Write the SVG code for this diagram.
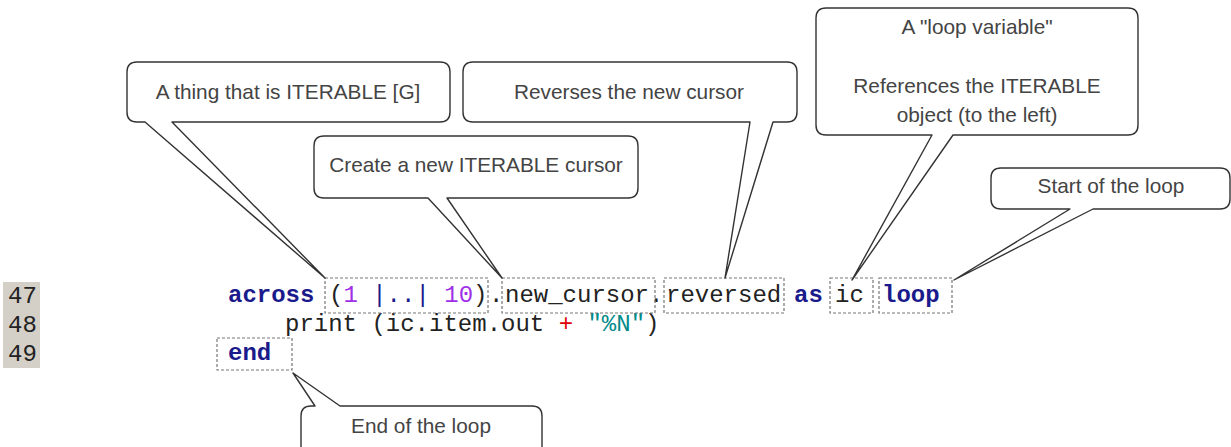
<svg xmlns="http://www.w3.org/2000/svg" width="1231" height="447" viewBox="0 0 1231 447">
<style>
.callout{fill:#fff;stroke:#333;stroke-width:1.4;stroke-linejoin:round}
.ct{font-family:"Liberation Sans",Arial,sans-serif;font-size:20.8px;fill:#444;text-anchor:middle}
.code{font-family:"Liberation Mono","Courier New",monospace;font-size:24px;fill:#222}
.kw{fill:#1a1a8c;font-weight:bold}
.op{fill:#1a1a8c}
.num{fill:#a030e8}
.dbox{fill:none;stroke:#777;stroke-width:1.2;stroke-dasharray:3 2}
</style>
<rect width="1231" height="447" fill="#fff"/>
<g id="gutter">
<rect x="3" y="282" width="37" height="86" fill="#d4d0c8"/>
<text class="code" x="8" y="303">47</text>
<text class="code" x="8" y="332">48</text>
<text class="code" x="8" y="361">49</text>
</g>
<g id="code">
<text class="code" x="228" y="302"><tspan class="kw">across</tspan></text>
<text class="code" x="329" y="302">(<tspan class="num">1</tspan> <tspan class="op">|..|</tspan> <tspan class="num">10</tspan>)</text>
<text class="code" x="489" y="302">.</text>
<text class="code" x="505" y="302">new_cursor.</text>
<text class="code" x="666" y="302">reversed</text>
<text class="code kw" x="794" y="302">as</text>
<text class="code" x="835" y="302">ic</text>
<text class="code kw" x="882" y="302">loop</text>
<text class="code" x="285" y="331">print (ic.item.out <tspan fill="#e00000">+</tspan> <tspan fill="#008b8b">"%N"</tspan>)</text>
<text class="code kw" x="228" y="360">end</text>
</g>
<g id="highlights">
<rect class="dbox" x="325" y="278" width="163" height="35"/>
<rect class="dbox" x="502" y="278" width="153" height="35"/>
<rect class="dbox" x="664" y="278" width="120" height="35"/>
<rect class="dbox" x="830" y="278" width="43" height="35"/>
<rect class="dbox" x="879" y="278" width="73" height="35"/>
<rect class="dbox" x="217" y="338" width="75" height="32"/>
</g>
<g id="connectors"></g>
<g id="callout-iterable">
<path class="callout" d="M137,62 H440 Q450,62 450,72 V112 Q450,122 440,122 H172 L325,278 L145,122 H137 Q127,122 127,112 V72 Q127,62 137,62 Z"/>
<text class="ct" x="288" y="99">A thing that is ITERABLE [G]</text>
</g>
<g id="callout-reverses">
<path class="callout" d="M473,62 H787 Q797,62 797,72 V112 Q797,122 787,122 H773 L725,278 L750,122 H473 Q463,122 463,112 V72 Q463,62 473,62 Z"/>
<text class="ct" x="629" y="99">Reverses the new cursor</text>
</g>
<g id="callout-create">
<path class="callout" d="M324,136 H628 Q638,136 638,146 V188 Q638,198 628,198 H447 L502,278 L428,198 H324 Q314,198 314,188 V146 Q314,136 324,136 Z"/>
<text class="ct" x="476" y="172">Create a new ITERABLE cursor</text>
</g>
<g id="callout-loopvar">
<path class="callout" d="M826,8 H1128 Q1138,8 1138,18 V125 Q1138,135 1128,135 H953 L852,280 L932,135 H826 Q816,135 816,125 V18 Q816,8 826,8 Z"/>
<text class="ct" x="977" y="34">A "loop variable"</text>
<text class="ct" x="977" y="93">References the ITERABLE</text>
<text class="ct" x="977" y="122">object (to the left)</text>
</g>
<g id="callout-start">
<path class="callout" d="M1001,168 H1220 Q1230,168 1230,178 V199 Q1230,209 1220,209 H1093 L954,280 L1070,209 H1001 Q991,209 991,199 V178 Q991,168 1001,168 Z"/>
<text class="ct" x="1111" y="193">Start of the loop</text>
</g>
<g id="callout-end">
<path class="callout" d="M311,406 H315 L293,373 L340,406 H532 Q542,406 542,416 V460 H301 V416 Q301,406 311,406 Z"/>
<text class="ct" x="421" y="433">End of the loop</text>
</g>
</svg>
